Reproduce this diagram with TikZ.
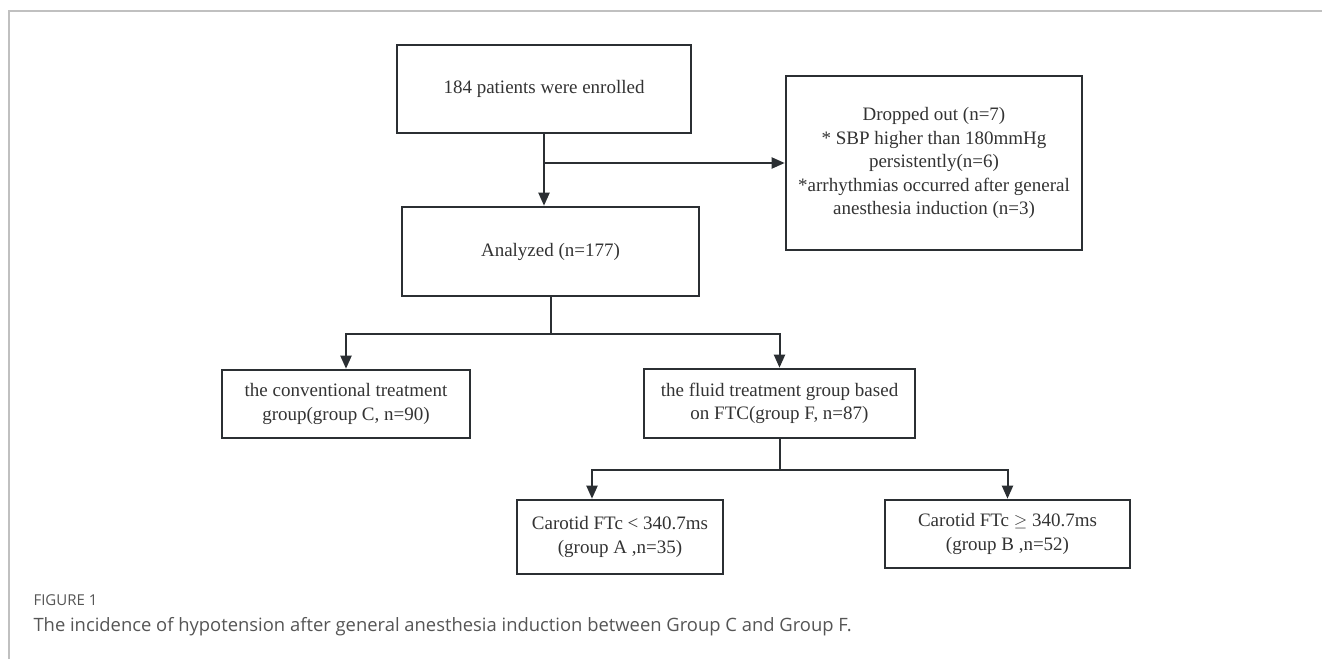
\documentclass[tikz,border=0pt]{standalone}
\usepackage{fontspec}
\setmainfont{Liberation Serif}
\newfontfamily\captionfont{Open Sans}
\usetikzlibrary{arrows.meta}
\definecolor{boxdark}{RGB}{43,47,51}
\definecolor{framegray}{RGB}{192,192,192}
\definecolor{captiongray}{RGB}{85,85,85}

\begin{document}
\begin{tikzpicture}[x=1pt, y=-1pt,
    box/.style={rectangle, draw=boxdark, line width=2.6pt, align=center, inner sep=0pt,
                text=black!80, font=\fontsize{19}{23.5}\selectfont},
    arrow/.style={-{Triangle[length=13pt, width=11pt]}, line width=2pt, boxdark},
    link/.style={line width=2pt, boxdark}
]
    \useasboundingbox (0,0) rectangle (1322,659);
    % Frame
    \draw[framegray, line width=2pt] (9,659) -- (9,11) -- (1322,11);

    % Boxes
    \node[box, minimum width=294pt, minimum height=88pt] (enroll) at (544,89) {184 patients were enrolled};
    \node[box, minimum width=296pt, minimum height=174pt] (drop) at (934,163)
        {Dropped out (n=7)\\* SBP higher than 180mmHg\\persistently(n=6)\\*arrhythmias occurred after general\\anesthesia induction (n=3)};
    \node[box, minimum width=297pt, minimum height=89pt] (analyzed) at (550.5,251.5) {Analyzed (n=177)};
    \node[box, minimum width=248pt, minimum height=68pt] (groupC) at (346,404) {the conventional treatment\\group(group C, n=90)};
    \node[box, minimum width=271pt, minimum height=69pt] (groupF) at (779.5,403.5) {the fluid treatment group based\\on FTC(group F, n=87)};
    \node[box, minimum width=206pt, minimum height=74pt] (groupA) at (620,537) {Carotid FTc < 340.7ms\\(group A ,n=35)};
    \node[box, minimum width=245pt, minimum height=68pt] (groupB) at (1007.5,534) {Carotid FTc $\geq$ 340.7ms\\(group B ,n=52)};

    % Junctions
    \coordinate (splitCF) at ([yshift=-37pt]analyzed.south);
    \coordinate (splitAB) at ([yshift=-31pt]groupF.south);
    \coordinate (intoA) at ([xshift=-28pt]groupA.north);

    % Arrows
    \draw[arrow] (enroll.south) -- (enroll.south |- analyzed.north);
    \draw[arrow] (enroll.south |- drop.west) -- (drop.west);
    \draw[link] (analyzed.south) -- (splitCF);
    \draw[arrow] (splitCF) -| (groupC.north);
    \draw[arrow] (splitCF) -| (groupF.north);
    \draw[link] (groupF.south) -- (splitAB);
    \draw[arrow] (splitAB) -| (intoA);
    \draw[arrow] (splitAB) -| (groupB.north);

    % Caption
    \node[anchor=west, text=captiongray, font=\captionfont\fontsize{15}{17}\selectfont] (figlabel) at (30,600) {FIGURE 1};
    \node[anchor=west, text=captiongray, font=\captionfont\fontsize{18.4}{21}\selectfont] (figcaption) at (30,627)
        {The incidence of hypotension after general anesthesia induction between Group C and Group F.};
\end{tikzpicture}
\end{document}
